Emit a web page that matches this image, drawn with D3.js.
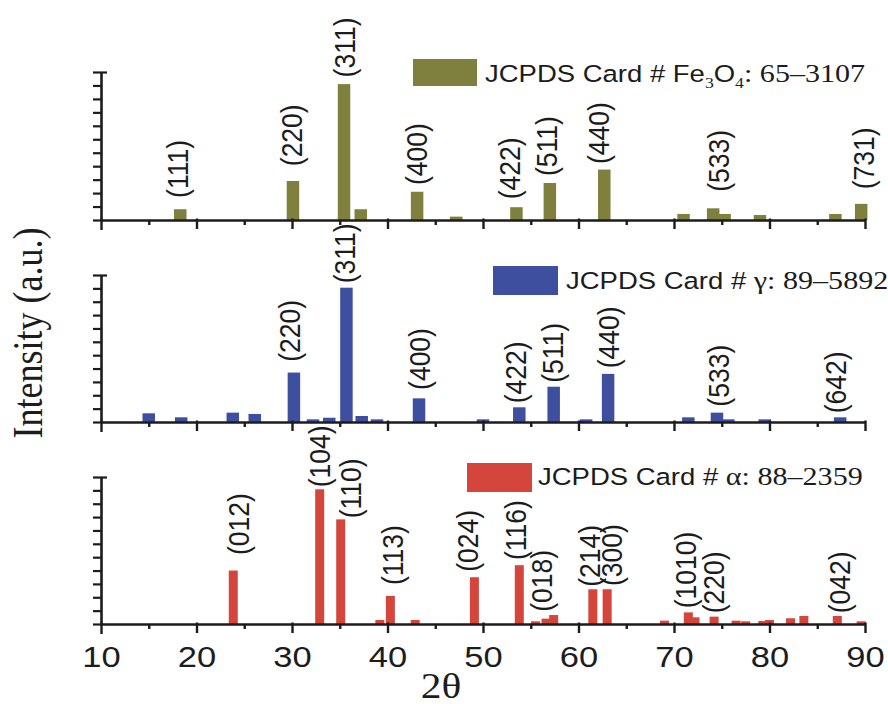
<!DOCTYPE html>
<html>
<head>
<meta charset="utf-8">
<script src="https://cdn.jsdelivr.net/npm/d3@7"></script>
<style>
  body { margin: 0; background: #fff; }
  svg { display: block; }
  .sans { font-family: "Liberation Sans", Arial, sans-serif; }
  .serif { font-family: "Liberation Serif", "Times New Roman", serif; }
</style>
</head>
<body>
<svg id="chart" width="888" height="704"></svg>
<script>
// tick labels of the 2theta axis
var xTicks = [10, 20, 30, 40, 50, 60, 70, 80, 90]

// Fe3O4 reference lines (65-3107)
var fe3o4Theta = [18.3, 30.1, 35.45, 37.2, 43.1, 47.2, 53.5, 57.0, 62.7, 71.0, 74.1, 75.3, 79.0, 86.9, 89.6]
var fe3o4Int = [8, 29, 101, 8, 21, 2.5, 9.5, 27.5, 37.5, 4.5, 8.7, 4.5, 3.7, 4.5, 12]
var fe3o4Hkl = ['(111)', '(220)', '(311)', '(400)', '(422)', '(511)', '(440)', '(533)', '(731)']
var fe3o4HklTheta = [18.0, 29.97, 35.45, 43.0, 52.8, 56.7, 62.1, 74.7, 89.8]
var fe3o4HklLevel = [16.4, 40, 106, 26, 15.4, 32.7, 41.6, 21, 22.8]

// gamma-Fe2O3 reference lines (89-5892)
var gammaTheta = [15.0, 18.4, 23.8, 26.1, 30.2, 32.2, 33.9, 35.7, 37.3, 38.9, 43.3, 50.0, 53.8, 57.4, 60.8, 63.1, 71.5, 74.5, 75.7, 79.5, 87.4]
var gammaInt = [6.5, 3.5, 7, 6, 37, 2, 3.2, 100.5, 4.5, 2, 17.7, 2, 11, 26.4, 2, 36, 3.5, 7, 2, 2, 3.5]
var gammaHkl = ['(220)', '(311)', '(400)', '(422)', '(511)', '(440)', '(533)', '(642)']
var gammaHklTheta = [29.7, 35.5, 43.3, 53.4, 57.3, 63.1, 74.7, 86.9]
var gammaHklLevel = [45, 103.8, 24, 14, 29.4, 40.2, 11.5, 6.5]

// alpha-Fe2O3 reference lines (88-2359)
var alphaTheta = [23.85, 32.9, 35.1, 39.2, 40.3, 42.9, 49.1, 53.8, 55.5, 56.6, 57.4, 61.5, 63.0, 69.0, 71.5, 72.2, 74.2, 76.5, 77.5, 79.3, 80.0, 82.2, 83.6, 87.1, 89.6]
var alphaInt = [40, 100.8, 78.3, 3, 21, 3, 35, 44, 2, 4, 6.7, 26, 26, 2.5, 8.7, 5, 5.5, 2.5, 2, 2.2, 3, 4.3, 6, 6, 2]
var alphaHkl = ['(012)', '(104)', '(110)', '(113)', '(024)', '(116)', '(018)', '(214)', '(300)', '(1010)', '(220)', '(042)']
var alphaHklTheta = [24.45, 32.9, 36.1, 40.5, 48.4, 53.4, 56.1, 61.2, 63.5, 71.2, 74.1, 87.3]
var alphaHklLevel = [51.6, 102.3, 79.1, 29.2, 39.1, 47.9, 9.2, 27.9, 28.4, 11.8, 8, 8]

// legend texts: [piece, style]
var fe3o4Legend = [['JCPDS Card # Fe', 'sans'], ['3', 'sub'], ['O', 'sans'], ['4', 'sub'], [': 65\u20133107', 'serif']]
var gammaLegend = [['JCPDS Card # ', 'sans'], ['\u03b3: 89\u20135892', 'serif']]
var alphaLegend = [['JCPDS Card # ', 'sans'], ['\u03b1: 88\u20132359', 'serif']]

var svg = d3.select('#chart')
svg.append('rect').attr('width', 888).attr('height', 704).attr('fill', '#fff')

var x = d3.scaleLinear().domain([10, 90]).range([101, 865])
var ink = '#1c1c1c'

var panels = [
  {theta: fe3o4Theta, value: fe3o4Int, hkl: fe3o4Hkl, hklTheta: fe3o4HklTheta, hklLevel: fe3o4HklLevel,
    color: '#80803e', top: 72, base: 220, barW: 12.5, legend: fe3o4Legend, lx: 413, ly: 59, lw: 64, lh: 27, tx: 485, ty: 82},
  {theta: gammaTheta, value: gammaInt, hkl: gammaHkl, hklTheta: gammaHklTheta, hklLevel: gammaHklLevel,
    color: '#3e4fa0', top: 275, base: 422, barW: 12.5, legend: gammaLegend, lx: 493, ly: 266, lw: 65, lh: 29, tx: 566, ty: 289},
  {theta: alphaTheta, value: alphaInt, hkl: alphaHkl, hklTheta: alphaHklTheta, hklLevel: alphaHklLevel,
    color: '#d4463c', top: 477, base: 624, barW: 9, legend: alphaLegend, lx: 467, ly: 463, lw: 65, lh: 29, tx: 538, ty: 485}
]

panels.forEach(function (p, pi) {
  var y = d3.scaleLinear().domain([0, 110]).range([p.base, p.top])
  var g = svg.append('g')

  // bars
  g.selectAll('.bar')
    .data(p.theta.map((t, i) => ({t: t, v: p.value[i]})))
    .enter().append('rect')
    .attr('x', d => x(d.t) - p.barW / 2)
    .attr('y', d => y(d.v))
    .attr('width', p.barW)
    .attr('height', d => p.base - y(d.v))
    .attr('fill', p.color)

  // hkl labels
  g.selectAll('.hkl')
    .data(p.hkl.map((h, i) => ({h: h, t: p.hklTheta[i], v: p.hklLevel[i]})))
    .enter().append('text')
    .attr('class', 'sans')
    .attr('transform', d => `translate(${x(d.t)},${y(d.v)}) scale(1.13,1) rotate(-90)`)
    .attr('dy', '0.35em')
    .attr('font-size', 26.5)
    .attr('fill', ink)
    .text(d => d.h)

  // x axis
  var xAxis = d3.axisBottom(x)
    .tickValues(d3.range(10, 91, 5))
    .tickSizeOuter(0)
    .tickFormat(d => (pi === 2 && xTicks.indexOf(d) >= 0) ? d : '')
  var ax = g.append('g').attr('transform', `translate(0,${p.base})`).call(xAxis)
  ax.select('.domain').attr('stroke', ink).attr('stroke-width', 2.6)
  ax.selectAll('.tick line')
    .attr('stroke', ink).attr('stroke-width', 2.4)
    .attr('y1', d => d % 10 === 0 ? -1.5 : 0)
    .attr('y2', d => d === 10 ? 10 : (d % 10 === 0 ? 9 : 5))
  ax.selectAll('.tick text')
    .attr('class', 'sans')
    .attr('font-size', 30)
    .attr('fill', ink)
    .attr('y', 43).attr('dy', 0)
    .attr('transform', 'scale(1.15,1)')

  // y axis (no labels, minor ticks only)
  var yAxis = d3.axisLeft(y).tickValues(d3.range(0, 111, 10)).tickSize(8).tickSizeOuter(0).tickFormat('')
  var ay = g.append('g').attr('transform', `translate(${x(10)},0)`).call(yAxis)
  ay.select('.domain').attr('stroke', ink).attr('stroke-width', 2.6)
  ay.selectAll('.tick line')
    .attr('stroke', ink).attr('stroke-width', 2.2)
    .attr('x1', d => d === 110 ? 6 : 0)

  // legend
  g.append('rect')
    .attr('x', p.lx).attr('y', p.ly).attr('width', p.lw).attr('height', p.lh)
    .attr('fill', p.color)
  var lt = g.append('text')
    .attr('transform', `translate(${p.tx},${p.ty}) scale(1.18,1)`)
    .attr('fill', ink)
  var afterSub = false
  p.legend.forEach(function (seg) {
    var ts = lt.append('tspan').text(seg[0])
    if (seg[1] === 'sub') {
      ts.attr('class', 'serif').attr('font-size', 15).attr('dy', 6)
      afterSub = true
    } else {
      ts.attr('class', seg[1]).attr('font-size', seg[1] === 'serif' ? 25.5 : 23.3)
      if (afterSub) ts.attr('dy', -6)
      afterSub = false
    }
  })
})

// axis titles
svg.append('text')
  .attr('class', 'serif')
  .attr('transform', 'translate(42,333) scale(1.15,1) rotate(-90)')
  .attr('text-anchor', 'middle')
  .attr('font-size', 36)
  .attr('fill', ink)
  .text('Intensity (a.u.)')

svg.append('text')
  .attr('class', 'serif')
  .attr('transform', 'translate(441,698) scale(1.15,1)')
  .attr('text-anchor', 'middle')
  .attr('font-size', 36)
  .attr('fill', ink)
  .text('2\u03b8')
</script>
</body>
</html>
